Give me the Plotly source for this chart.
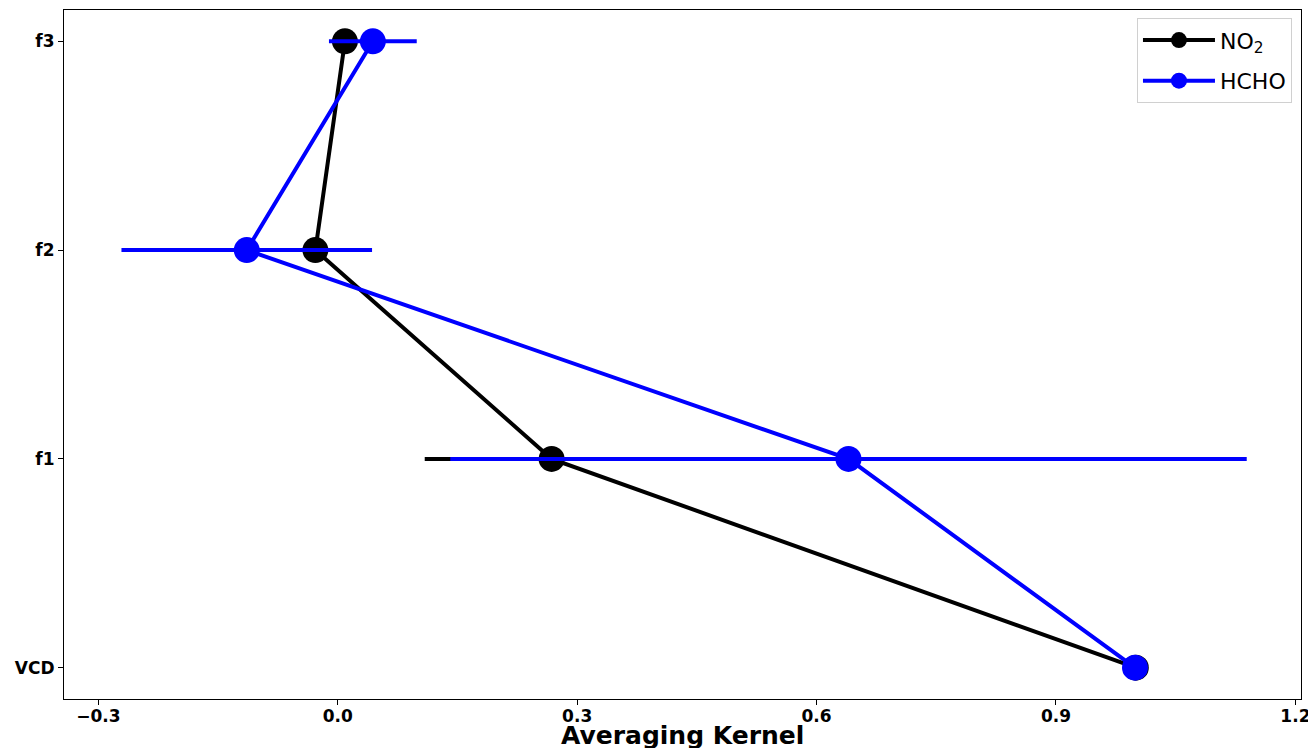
import plotly.graph_objects as go

levels = ["VCD", "f1", "f2", "f3"]
level_pos = [0, 1, 2, 3]

no2_ak = [1.0, 0.268, -0.028, 0.009]
no2_err = [0.0, 0.159, 0.015, 0.005]

hcho_ak = [0.999, 0.640, -0.114, 0.044]
hcho_err = [0.0, 0.499, 0.157, 0.055]

x_tickvals = [-0.3, 0.0, 0.3, 0.6, 0.9, 1.2]
x_ticktext = ["\u22120.3", "0.0", "0.3", "0.6", "0.9", "1.2"]
x_title = "Averaging Kernel"

fig = go.Figure()

for name, vals, errs, color in [
    ("NO<sub>2</sub>", no2_ak, no2_err, "black"),
    ("HCHO", hcho_ak, hcho_err, "#0000ff"),
]:
    fig.add_trace(go.Scatter(
        x=vals, y=level_pos, name=name, mode="lines+markers",
        legendgroup=name,
        line=dict(color=color, width=4),
        marker=dict(color=color, size=26),
        error_x=dict(type="data", array=errs, visible=True,
                     color=color, thickness=4, width=0),
    ))

# page body has an 8px margin, so the figure is sized to fit the 1316x756 window
fig.update_layout(
    width=1300, height=740,
    margin=dict(l=56, r=7, t=2, b=49, autoexpand=False),
    plot_bgcolor="white", paper_bgcolor="white",
    font=dict(family="DejaVu Sans", color="black"),
    showlegend=True,
    legend=dict(
        x=0.9927, y=0.988, xanchor="right", yanchor="top",
        bordercolor="#d0d0d0", borderwidth=1, bgcolor="white",
        font=dict(size=22, family="DejaVu Sans"),
        itemwidth=72, tracegroupgap=9,
    ),
    annotations=[dict(
        text="<b>" + x_title + "</b>", xref="paper", yref="paper",
        x=0.5, y=-0.0525, xanchor="center", yanchor="middle",
        showarrow=False, font=dict(size=25, family="DejaVu Sans", color="black"),
    )],
)

fig.update_xaxes(
    range=[-0.343, 1.207], automargin=False,
    tickvals=x_tickvals, ticktext=x_ticktext,
    tickfont=dict(size=17, family="DejaVu Sans", weight="bold"),
    ticklabeloverflow="allow", ticklabelstandoff=-3,
    showline=True, linecolor="black", linewidth=1, mirror=True,
    ticks="outside", ticklen=5, tickcolor="black",
    showgrid=False, zeroline=False,
)
fig.update_yaxes(
    range=[-0.15, 3.15], automargin=False,
    tickvals=level_pos, ticktext=levels,
    tickfont=dict(size=17, family="DejaVu Sans", weight="bold"),
    showline=True, linecolor="black", linewidth=1, mirror=True,
    ticks="outside", ticklen=5, tickcolor="black",
    showgrid=False, zeroline=False,
)

fig.write_html("out.html")
